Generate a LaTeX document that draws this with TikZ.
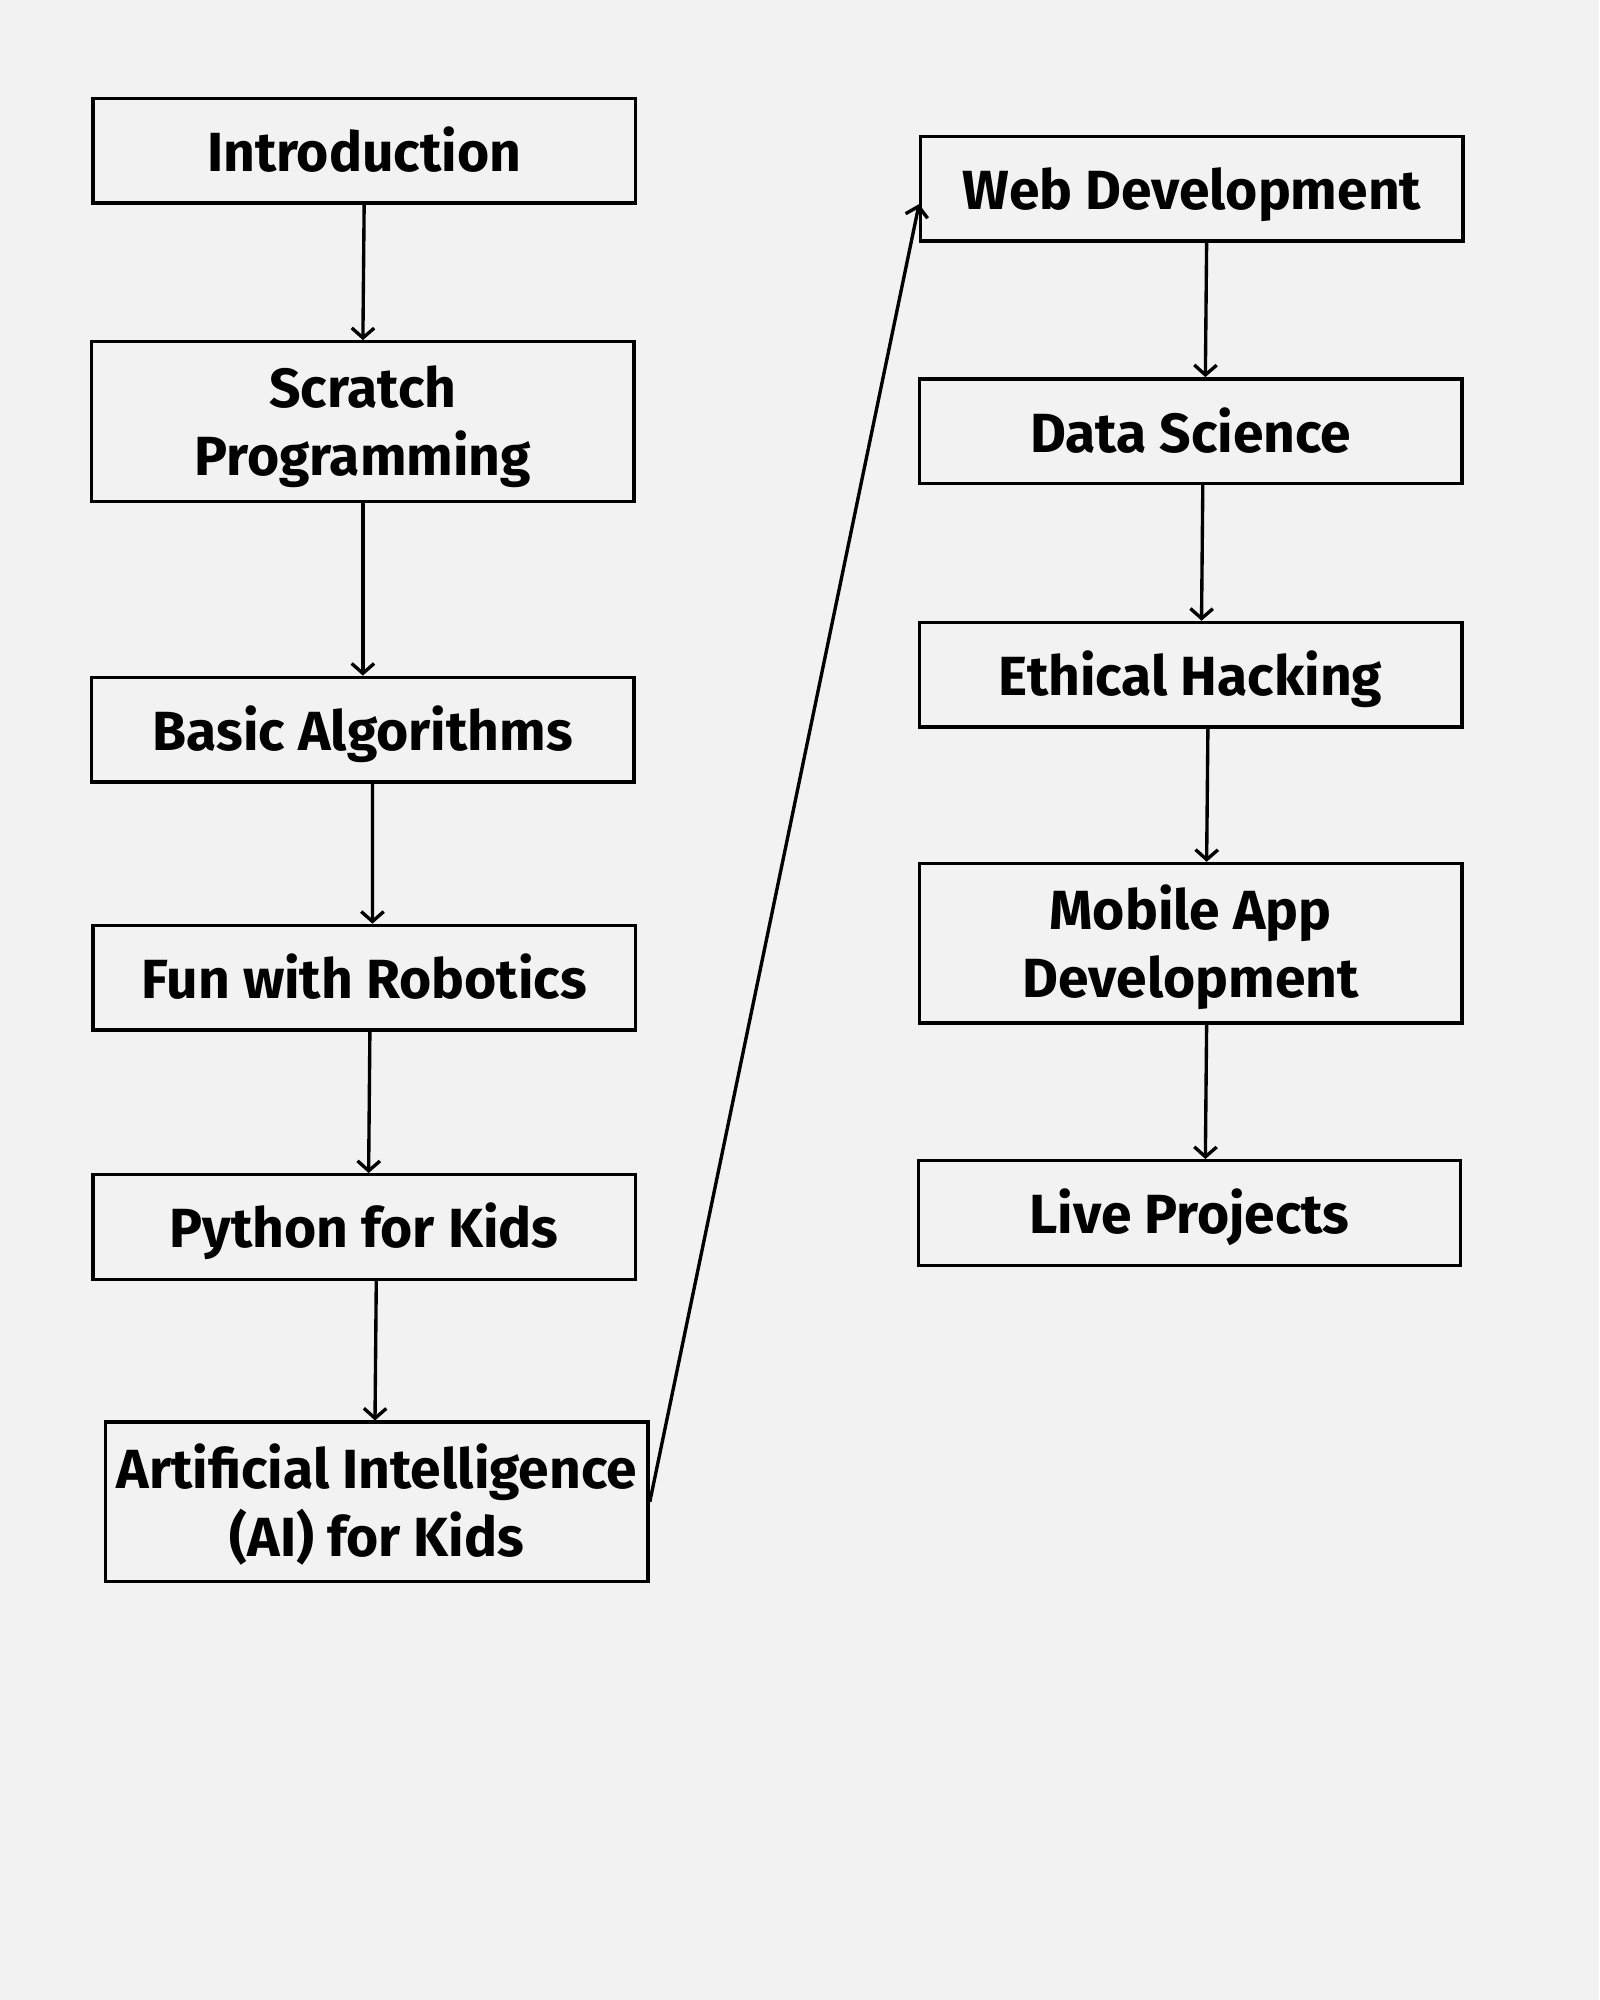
\documentclass[tikz,border=0pt]{standalone}
\usepackage{fontspec}
\setmainfont{Fira Sans}
\usetikzlibrary{arrows.meta}
\definecolor{paper}{HTML}{F2F2F2}
\tikzset{
  topic/.style={draw, line width=0.75pt, minimum width=4.25cm, minimum height=0.82cm,
    inner sep=0pt, align=center, text height=9.3pt, text depth=0pt,
    font=\bfseries\fontsize{12.3}{15.2}\selectfont},
  bigtopic/.style={topic, minimum height=1.25cm, text height=24.2pt},
  link/.style={line width=0.75pt, -{Straight Barb[length=2.2pt,width=5pt]}}
}
\begin{document}
\begin{tikzpicture}[x=0.01cm, y=-0.01cm]
      \fill[paper] (0,0) rectangle (1254,1568);
      \useasboundingbox (0,0) rectangle (1254,1568);

      % left column
      \node[topic] (intro) at (285.5, 118) {Introduction};
      \node[bigtopic] (scratch) at (284.5, 330.5) {Scratch\\Programming};
      \node[topic] (basic) at (284.5, 572) {Basic Algorithms};
      \node[topic] (fun) at (285.5, 766.5) {Fun with Robotics};
      \node[topic] (python) at (285.5, 962) {Python for Kids};
      \node[bigtopic] (ai) at (295.5, 1177.5) {Artificial Intelligence\\(AI) for Kids};

      % right column
      \node[topic] (web) at (934.5, 148) {Web Development};
      \node[topic] (data) at (933.5, 338) {Data Science};
      \node[topic] (ethical) at (933.5, 529) {Ethical Hacking};
      \node[bigtopic] (mobile) at (933.5, 739.5) {Mobile App\\Development};
      \node[topic] (live) at (932.5, 951) {Live Projects};

      \draw[link] (intro.south) -- (scratch.north);
      \draw[link] (scratch.south) -- (basic.north);
      \draw[link] ([xshift=0.075cm]basic.south) -- ([xshift=0.065cm]fun.north);
      \draw[link] ([xshift=0.045cm]fun.south) -- ([xshift=0.035cm]python.north);
      \draw[link] ([xshift=0.095cm]python.south) -- ([xshift=-0.015cm]ai.north);
      \draw[link] (ai.east) -- ([yshift=-0.12cm]web.west);

      \draw[link] ([xshift=0.115cm]web.south) -- ([xshift=0.115cm]data.north);
      \draw[link] ([xshift=0.095cm]data.south) -- ([xshift=0.085cm]ethical.north);
      \draw[link] ([xshift=0.135cm]ethical.south) -- ([xshift=0.125cm]mobile.north);
      \draw[link] ([xshift=0.125cm]mobile.south) -- ([xshift=0.125cm]live.north);
    \end{tikzpicture}
\end{document}
